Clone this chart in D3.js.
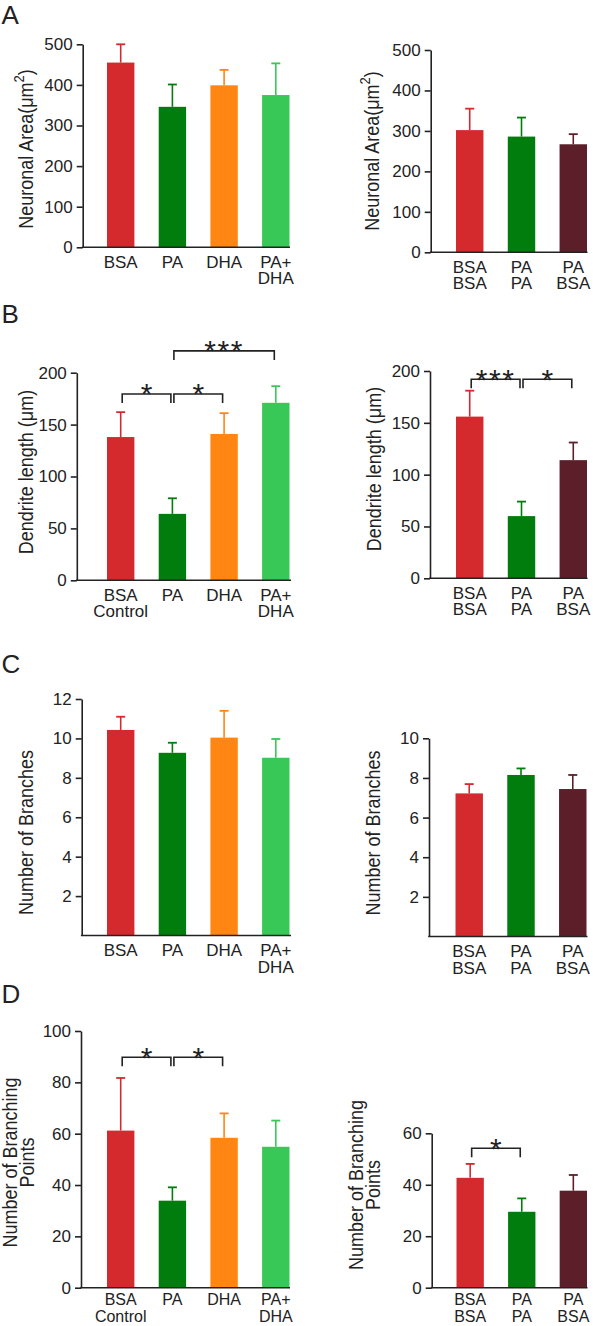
<!DOCTYPE html>
<html>
<head>
<meta charset="utf-8">
<script src="https://cdn.jsdelivr.net/npm/d3@7"></script>
<style>
html,body{margin:0;padding:0;background:#fff;}
svg{display:block;font-family:"Liberation Sans",Arial,Helvetica,sans-serif;}
</style>
</head>
<body>
<svg id="chart" width="593" height="1326"></svg>
<script>
// ---------- data ----------
const labelsLeftA = [["BSA"], ["PA"], ["DHA"], ["PA+", "DHA"]];
const labelsLeftB = [["BSA", "Control"], ["PA"], ["DHA"], ["PA+", "DHA"]];
const labelsRight = [["BSA", "BSA"], ["PA", "PA"], ["PA", "BSA"]];

const colorsLeft = ["#d42a2e", "#007d0c", "#ff8612", "#37c857"];
const colorsRight = ["#d42a2e", "#007d0c", "#5c1f29"];

const areaLeft = [455, 346, 399, 375];
const areaLeftErr = [45, 55, 38, 78];
const areaRight = [302, 286, 267];
const areaRightErr = [53, 47, 25];

const dendLeft = [138, 64, 141, 171];
const dendLeftErr = [24, 15, 20, 16];
const dendRight = [156, 60, 114];
const dendRightErr = [25, 14, 17];

const branchLeft = [10.43, 9.27, 10.04, 9.02];
const branchLeftErr = [0.67, 0.51, 1.36, 0.95];
const branchRight = [7.22, 8.15, 7.44];
const branchRightErr = [0.47, 0.33, 0.71];

const bpLeft = [61.2, 33.9, 58.4, 54.9];
const bpLeftErr = [20.5, 5.2, 9.5, 10.2];
const bpRight = [42.7, 29.5, 37.7];
const bpRightErr = [5.4, 5.2, 6.1];

const ticksArea = [0, 100, 200, 300, 400, 500];
const ticksDend = [0, 50, 100, 150, 200];
const ticksBranchLeft = [2, 4, 6, 8, 10, 12];
const ticksBranchRight = [2, 4, 6, 8, 10];
const ticksBpLeft = [0, 20, 40, 60, 80, 100];
const ticksBpRight = [0, 20, 40, 60];

const sigDendLeft = [{a: 0, b: 1, v: 179.5, t: "*"}, {a: 1, b: 2, v: 179.5, t: "*"}, {a: 1, b: 3, v: 221, t: "***"}];
const sigDendRight = [{a: 0, b: 1, v: 192, t: "***"}, {a: 1, b: 2, v: 192, t: "*"}];
const sigBpLeft = [{a: 0, b: 1, v: 89.8, t: "*"}, {a: 1, b: 2, v: 89.8, t: "*"}];
const sigBpRight = [{a: 0, b: 1, v: 54.2, t: "*"}];

// ---------- drawing ----------
const svg = d3.select("#chart");
const INK = "#222";

function panel(cfg) {
  const n = cfg.values.length;
  const x = d3.scaleBand().domain(d3.range(n)).range(cfg.barRange).paddingInner(0.47).paddingOuter(0);
  const y = d3.scaleLinear().domain([0, cfg.max]).range([cfg.y0, cfg.yTop]);
  const g = svg.append("g");

  // bars
  g.selectAll("rect.bar").data(cfg.values).join("rect")
    .attr("class", "bar")
    .attr("x", (d, i) => x(i))
    .attr("y", d => y(d))
    .attr("width", x.bandwidth())
    .attr("height", d => y(0) - y(d))
    .attr("fill", (d, i) => cfg.colors[i]);

  // error bars (upper only)
  const eb = g.selectAll("g.err").data(cfg.values).join("g").attr("class", "err");
  eb.append("line")
    .attr("x1", (d, i) => x(i) + x.bandwidth() / 2)
    .attr("x2", (d, i) => x(i) + x.bandwidth() / 2)
    .attr("y1", d => y(d))
    .attr("y2", (d, i) => y(d + cfg.errs[i]))
    .attr("stroke", (d, i) => cfg.colors[i]).attr("stroke-width", 1.6);
  eb.append("line")
    .attr("x1", (d, i) => x(i) + x.bandwidth() / 2 - 4.5)
    .attr("x2", (d, i) => x(i) + x.bandwidth() / 2 + 4.5)
    .attr("y1", (d, i) => y(d + cfg.errs[i]))
    .attr("y2", (d, i) => y(d + cfg.errs[i]))
    .attr("stroke", (d, i) => cfg.colors[i]).attr("stroke-width", 1.8);

  // y axis
  const ax = g.append("g").attr("transform", `translate(${cfg.axisX},0)`)
    .call(d3.axisLeft(y).tickValues(cfg.ticks).tickSize(6).tickPadding(4).tickSizeOuter(0).tickFormat(d3.format("d")));
  ax.select(".domain").attr("stroke", INK).attr("stroke-width", 1.6);
  ax.selectAll(".tick line").attr("stroke", INK).attr("stroke-width", 1.6);
  ax.selectAll(".tick text").attr("fill", INK).attr("font-size", 17).attr("font-family", "Liberation Sans, Arial, sans-serif");

  // x axis baseline
  g.append("line")
    .attr("x1", cfg.axisX - 0.8).attr("x2", cfg.xEnd)
    .attr("y1", y(0)).attr("y2", y(0))
    .attr("stroke", INK).attr("stroke-width", 1.6);

  // category labels
  const lab = g.selectAll("text.cat").data(cfg.labels).join("text")
    .attr("class", "cat")
    .attr("text-anchor", "middle")
    .attr("font-size", cfg.labFont || 17)
    .attr("fill", INK)
    .attr("x", (d, i) => x(i) + x.bandwidth() / 2)
    .attr("y", y(0) + (cfg.labOff || 20.5));
  lab.selectAll("tspan").data(d => d).join("tspan")
    .attr("x", function () { return d3.select(this.parentNode).attr("x"); })
    .attr("dy", (d, j) => j === 0 ? 0 : (cfg.labGap || 16.5))
    .text(d => d);

  // y title
  const tt = g.append("text")
    .attr("transform", `translate(${cfg.titleX},${cfg.titleY}) rotate(-90) scale(1,1.1)`)
    .attr("text-anchor", "middle")
    .attr("font-size", 18)
    .attr("fill", INK);
  cfg.title(tt);

  // significance brackets
  const gap = 1.5, leg = 9;
  (cfg.sig || []).forEach(s => {
    const xa = x(s.a) + x.bandwidth() / 2 + gap;
    const xb = x(s.b) + x.bandwidth() / 2 - gap;
    const yb = y(s.v);
    g.append("path")
      .attr("d", `M${xa},${yb + leg}V${yb}H${xb}V${yb + leg}`)
      .attr("fill", "none").attr("stroke", INK).attr("stroke-width", 1.6);
    g.append("text")
      .attr("x", (xa + xb) / 2)
      .attr("y", yb + 10.5)
      .attr("text-anchor", "middle")
      .attr("font-size", 30)
      .attr("letter-spacing", s.t.length > 1 ? 1.5 : 0)
      .attr("fill", INK)
      .text(s.t);
  });
}

function areaTitle(t) {
  t.append("tspan").text("Neuronal Area(\u03bcm");
  t.append("tspan").attr("font-size", 13).attr("dy", -8).text("2");
  t.append("tspan").attr("dy", 8).text(")");
}
function dendTitle(t) { t.text("Dendrite length (\u03bcm)"); }
function branchTitle(t) { t.text("Number of Branches"); }
function bpTitle(t) {
  t.append("tspan").attr("x", 0).attr("dy", 0).text("Number of Branching");
  t.append("tspan").attr("x", 0).attr("dy", 15).text("Points");
}

// Panel A
panel({values: areaLeft, errs: areaLeftErr, colors: colorsLeft, labels: labelsLeftA, max: 500, ticks: ticksArea,
  axisX: 82.7, barRange: [107, 289.5], xEnd: 290, y0: 247.3, yTop: 44.3, titleX: 32.5, titleY: 149, title: areaTitle});
panel({values: areaRight, errs: areaRightErr, colors: colorsRight, labels: labelsRight, max: 500, ticks: ticksArea,
  axisX: 430.7, barRange: [456, 587], xEnd: 587.5, y0: 252.3, yTop: 50, titleX: 379, titleY: 151, title: areaTitle});
// Panel B
panel({values: dendLeft, errs: dendLeftErr, colors: colorsLeft, labels: labelsLeftB, max: 200, ticks: ticksDend,
  axisX: 76.8, barRange: [107, 289.5], xEnd: 291, y0: 580.3, yTop: 372.7, titleX: 33, titleY: 472, title: dendTitle, sig: sigDendLeft});
panel({values: dendRight, errs: dendRightErr, colors: colorsRight, labels: labelsRight, max: 200, ticks: ticksDend,
  axisX: 430, barRange: [456, 587], xEnd: 587.5, y0: 578.3, yTop: 371, titleX: 381, titleY: 469, title: dendTitle, sig: sigDendRight});
// Panel C
panel({values: branchLeft, errs: branchLeftErr, colors: colorsLeft, labels: labelsLeftA, max: 12, ticks: ticksBranchLeft,
  axisX: 81.7, barRange: [107, 289.5], xEnd: 291, y0: 935.5, yTop: 699, titleX: 33, titleY: 832.5, title: branchTitle});
panel({values: branchRight, errs: branchRightErr, colors: colorsRight, labels: labelsRight, max: 10, ticks: ticksBranchRight,
  axisX: 429, barRange: [455.5, 586.5], xEnd: 587.5, y0: 936.5, yTop: 738.3, titleX: 380, titleY: 833, title: branchTitle});
// Panel D
panel({values: bpLeft, errs: bpLeftErr, colors: colorsLeft, labels: labelsLeftB, max: 100, ticks: ticksBpLeft,
  axisX: 81, barRange: [107, 289.5], xEnd: 290, y0: 1287.7, yTop: 1031, titleX: 17, titleY: 1162.5, title: bpTitle, sig: sigBpLeft,
  labOff: 17.5, labGap: 16.5, labFont: 16});
panel({values: bpRight, errs: bpRightErr, colors: colorsRight, labels: labelsRight, max: 60, ticks: ticksBpRight,
  axisX: 431.7, barRange: [456.5, 587], xEnd: 587.5, y0: 1287.7, yTop: 1133.3, titleX: 363, titleY: 1185, title: bpTitle, sig: sigBpRight,
  labOff: 17.5, labGap: 16.5, labFont: 16});

// panel letters
const panelLetters = [{t: "A", y: 23.5}, {t: "B", y: 323.3}, {t: "C", y: 673}, {t: "D", y: 1003}];
svg.selectAll("text.plab").data(panelLetters).join("text")
  .attr("class", "plab")
  .attr("x", 1.5).attr("y", d => d.y)
  .attr("font-size", 26).attr("fill", INK)
  .text(d => d.t);
</script>
</body>
</html>
